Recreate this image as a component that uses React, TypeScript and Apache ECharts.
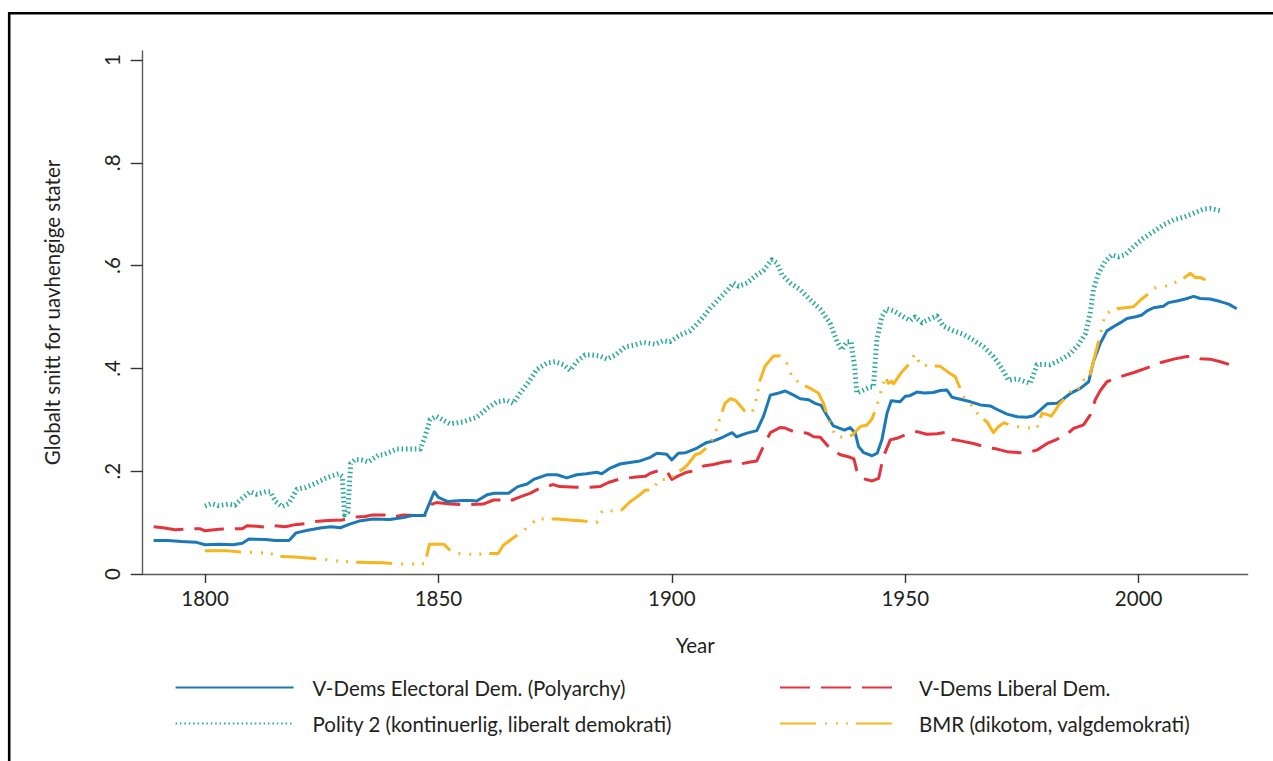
import React, { useEffect, useRef } from 'react';
import * as echarts from 'echarts';

const xTicks = [1800, 1850, 1900, 1950, 2000];
const yTicks = [0, 0.2, 0.4, 0.6, 0.8, 1];

const nameElectoral = 'V-Dems Electoral Dem. (Polyarchy)';
const nameLiberal = 'V-Dems Liberal Dem.';
const namePolity = 'Polity 2 (kontinuerlig, liberalt demokrati)';
const nameBmr = 'BMR (dikotom, valgdemokrati)';

const polyarchy: [number, number][] = [
  [1789, 0.065], [1792, 0.065], [1795, 0.063], [1798, 0.062], [1800, 0.057], [1803, 0.058], [1806, 0.057],
  [1808, 0.06], [1809.4, 0.068], [1813, 0.067], [1815, 0.065], [1818, 0.065], [1819.5, 0.08], [1822, 0.085],
  [1825, 0.09], [1827, 0.092], [1829, 0.09], [1831, 0.097], [1833, 0.103], [1836, 0.107], [1839.6, 0.106],
  [1842.5, 0.11], [1844.6, 0.114], [1847, 0.114], [1849.1, 0.16], [1850, 0.149], [1852, 0.141], [1855, 0.143],
  [1857, 0.143], [1858.2, 0.142], [1860.4, 0.154], [1862, 0.157], [1865, 0.157], [1867, 0.17], [1869, 0.175],
  [1870.4, 0.184], [1873.2, 0.193], [1875.4, 0.193], [1877.5, 0.187], [1879.6, 0.193], [1881.7, 0.195],
  [1883.9, 0.198], [1885, 0.195], [1886.8, 0.206], [1888.9, 0.214], [1891, 0.217], [1893.2, 0.22],
  [1895.4, 0.227], [1896.8, 0.235], [1898.9, 0.233], [1900, 0.222], [1901.4, 0.235], [1903, 0.236],
  [1905.4, 0.245], [1907.5, 0.256], [1909, 0.259], [1911.1, 0.267], [1912.9, 0.275], [1913.9, 0.267],
  [1916.1, 0.274], [1918.2, 0.279], [1919.6, 0.306], [1921.1, 0.348], [1922.5, 0.351], [1924.3, 0.356],
  [1926.1, 0.348], [1927.5, 0.341], [1929.3, 0.339], [1930.7, 0.332], [1932, 0.328], [1933.2, 0.309],
  [1934.6, 0.288], [1937, 0.28], [1938.2, 0.285], [1939.3, 0.274], [1940, 0.248], [1941.1, 0.236],
  [1942.9, 0.23], [1944, 0.235], [1945, 0.261], [1946.1, 0.313], [1947, 0.337], [1948.9, 0.335],
  [1950, 0.346], [1951, 0.347], [1952.5, 0.354], [1954, 0.352], [1956, 0.353], [1957.5, 0.357],
  [1958.9, 0.358], [1960, 0.344], [1961.8, 0.34], [1964, 0.335], [1966.1, 0.329], [1968.2, 0.327],
  [1969.7, 0.32], [1971.8, 0.311], [1974, 0.306], [1976.1, 0.305], [1977.5, 0.308], [1978.9, 0.319],
  [1980.4, 0.331], [1982.5, 0.332], [1983.9, 0.341], [1985.5, 0.352], [1987.5, 0.361], [1989.3, 0.374],
  [1990.3, 0.413], [1991.8, 0.449], [1993.2, 0.473], [1994.6, 0.481], [1996.1, 0.489], [1997.5, 0.497],
  [1999.6, 0.501], [2000.7, 0.504], [2001.8, 0.512], [2003.2, 0.518], [2005.3, 0.521], [2006.4, 0.528],
  [2008.2, 0.531], [2010, 0.535], [2011.8, 0.54], [2013.2, 0.536], [2015.3, 0.535], [2017.5, 0.53],
  [2019.3, 0.525], [2021, 0.516],
];

const liberal: [number, number][] = [
  [1789, 0.092], [1791, 0.09], [1793.6, 0.086], [1796.8, 0.088], [1799, 0.088], [1800, 0.084], [1803, 0.087],
  [1806, 0.088], [1808, 0.088], [1809, 0.094], [1811, 0.093], [1813, 0.091], [1814.6, 0.094], [1817.2, 0.092],
  [1819.3, 0.096], [1821.4, 0.098], [1823.6, 0.102], [1826.4, 0.104], [1829.4, 0.105], [1831.1, 0.11],
  [1834.3, 0.112], [1836, 0.115], [1838.3, 0.115], [1840, 0.11], [1842.5, 0.115], [1845, 0.114],
  [1847.1, 0.114], [1848.6, 0.136], [1849.6, 0.139], [1852.5, 0.136], [1855.4, 0.135], [1859.6, 0.136],
  [1861.8, 0.144], [1864, 0.144], [1865, 0.141], [1867.5, 0.15], [1869.6, 0.157], [1871.8, 0.167],
  [1874.6, 0.174], [1876, 0.17], [1879.6, 0.169], [1882.5, 0.169], [1884.6, 0.17], [1886.4, 0.178],
  [1888.9, 0.185], [1891.8, 0.188], [1894.3, 0.19], [1895.4, 0.196], [1897.5, 0.202], [1899, 0.199],
  [1900, 0.184], [1901.4, 0.191], [1903.2, 0.198], [1905.4, 0.202], [1906.8, 0.21], [1908.9, 0.213],
  [1911.1, 0.218], [1912.9, 0.22], [1914.6, 0.214], [1916.8, 0.218], [1918.2, 0.22], [1919.6, 0.248],
  [1921.1, 0.275], [1923.2, 0.285], [1924.3, 0.284], [1926.1, 0.277], [1929, 0.274], [1930.4, 0.267],
  [1931.8, 0.266], [1933.9, 0.244], [1936.1, 0.232], [1938.2, 0.227], [1939, 0.224], [1939.6, 0.202],
  [1940.7, 0.186], [1942.9, 0.181], [1944.3, 0.186], [1945.3, 0.228], [1946.8, 0.261], [1948.2, 0.264],
  [1950.4, 0.272], [1952.5, 0.277], [1954.6, 0.272], [1956.8, 0.273], [1958.9, 0.276], [1960, 0.262],
  [1961.8, 0.259], [1964.6, 0.254], [1967.5, 0.246], [1969.7, 0.243], [1971.8, 0.238], [1974.6, 0.236],
  [1976.8, 0.238], [1978.2, 0.241], [1980.4, 0.254], [1982.5, 0.262], [1985.3, 0.277], [1986, 0.283],
  [1988.2, 0.29], [1989.6, 0.309], [1990.7, 0.339], [1991.8, 0.357], [1993.2, 0.374], [1996.1, 0.384],
  [1999, 0.392], [2001.8, 0.401], [2004.6, 0.411], [2007.5, 0.418], [2010.3, 0.423], [2011.8, 0.424],
  [2013.2, 0.419], [2015.3, 0.418], [2017.5, 0.413], [2019.6, 0.407], [2021, 0.4],
];

const polity: [number, number][] = [
  [1800, 0.132], [1801.4, 0.137], [1802.9, 0.133], [1805, 0.136], [1806.4, 0.134], [1807.9, 0.147],
  [1809.7, 0.16], [1811.1, 0.155], [1813, 0.16], [1814, 0.16], [1815.1, 0.141], [1816.5, 0.131],
  [1817.9, 0.137], [1819.7, 0.165], [1821.4, 0.168], [1823.6, 0.176], [1825.8, 0.186], [1827.2, 0.191],
  [1828.6, 0.195], [1829.4, 0.19], [1829.9, 0.115], [1830.6, 0.12], [1831.2, 0.215], [1832.2, 0.223],
  [1833.5, 0.222], [1835, 0.218], [1837.2, 0.232], [1838.2, 0.232], [1841.1, 0.243], [1843.9, 0.243],
  [1846.1, 0.243], [1847.1, 0.267], [1848.2, 0.3], [1849.6, 0.307], [1850.9, 0.3], [1852.5, 0.292],
  [1855.3, 0.296], [1858.2, 0.305], [1860.4, 0.322], [1862.5, 0.335], [1864.6, 0.338], [1866, 0.332],
  [1867.5, 0.352], [1869.6, 0.377], [1871.1, 0.398], [1873.2, 0.41], [1875, 0.413], [1876.8, 0.407],
  [1878.2, 0.396], [1879.6, 0.413], [1881.4, 0.426], [1882.9, 0.426], [1884.6, 0.424], [1886.1, 0.418],
  [1887.9, 0.426], [1890, 0.442], [1891.8, 0.445], [1893.9, 0.451], [1896.4, 0.447], [1898.2, 0.454],
  [1899.6, 0.452], [1901.8, 0.465], [1903.9, 0.473], [1906.1, 0.493], [1908.2, 0.517], [1910.4, 0.538],
  [1912.1, 0.554], [1913.2, 0.566], [1914.3, 0.56], [1916.1, 0.566], [1918.2, 0.582], [1919.6, 0.59],
  [1921.4, 0.611], [1922.5, 0.605], [1923.6, 0.582], [1925.4, 0.566], [1927.5, 0.553], [1929.6, 0.534],
  [1931.8, 0.515], [1933.9, 0.488], [1935.4, 0.452], [1936.4, 0.436], [1937.5, 0.452], [1938.4, 0.452],
  [1939.2, 0.4], [1939.6, 0.352], [1941.1, 0.358], [1942.5, 0.364], [1943.2, 0.364], [1943.9, 0.455],
  [1945, 0.501], [1946.1, 0.516], [1947.5, 0.512], [1949.3, 0.502], [1951.1, 0.493], [1952.1, 0.5],
  [1953.6, 0.489], [1955.4, 0.497], [1956.8, 0.502], [1958.2, 0.482], [1960.3, 0.473], [1962.5, 0.466],
  [1964.6, 0.455], [1966.8, 0.442], [1968.9, 0.423], [1970.7, 0.4], [1972.1, 0.377], [1974, 0.38],
  [1975.7, 0.374], [1976.8, 0.371], [1978.2, 0.407], [1979.6, 0.408], [1981, 0.407], [1983.2, 0.416],
  [1985.3, 0.428], [1987.1, 0.446], [1988.6, 0.468], [1989.6, 0.507], [1990.3, 0.553], [1991.4, 0.585],
  [1992.8, 0.608], [1994.3, 0.621], [1995.7, 0.617], [1997.1, 0.621], [1998.9, 0.637], [2001, 0.653],
  [2003.2, 0.666], [2005.3, 0.679], [2007.5, 0.689], [2009.6, 0.694], [2011.8, 0.702], [2013.9, 0.71],
  [2015.3, 0.711], [2017.5, 0.707],
];

const bmr: [number, number][] = [
  [1800, 0.045], [1805, 0.045], [1807.6, 0.043], [1811, 0.042], [1814, 0.04], [1815.8, 0.034],
  [1819.3, 0.033], [1823.3, 0.03], [1826, 0.028], [1829, 0.025], [1831.9, 0.023], [1838, 0.022],
  [1841, 0.02], [1844, 0.019], [1847.1, 0.02], [1848.1, 0.058], [1851.1, 0.058], [1853, 0.042],
  [1855, 0.039], [1857.9, 0.038], [1860.4, 0.04], [1862.8, 0.04], [1863.9, 0.056], [1866, 0.07],
  [1869.3, 0.092], [1871.1, 0.107], [1875.4, 0.107], [1878, 0.105], [1881, 0.103], [1883.9, 0.1],
  [1885, 0.121], [1889.3, 0.125], [1891, 0.14], [1893, 0.153], [1894.3, 0.163], [1896.1, 0.164],
  [1897.1, 0.184], [1899.6, 0.184], [1901, 0.197], [1902.5, 0.205], [1903.6, 0.215], [1905, 0.232],
  [1906.1, 0.235], [1907.5, 0.246], [1908.5, 0.26], [1909.5, 0.28], [1910.4, 0.306], [1911.4, 0.332],
  [1912.5, 0.341], [1913.6, 0.338], [1914, 0.334], [1915.5, 0.318], [1917, 0.312], [1917.8, 0.326],
  [1918.2, 0.345], [1918.9, 0.377], [1920, 0.405], [1921.8, 0.424], [1923.2, 0.424], [1924.6, 0.41],
  [1925.7, 0.385], [1927.5, 0.37], [1929.5, 0.362], [1931.4, 0.352], [1932.5, 0.332], [1933.6, 0.3],
  [1935, 0.27], [1936.5, 0.266], [1938.6, 0.27], [1940.4, 0.287], [1941.8, 0.29], [1942.9, 0.302],
  [1944, 0.33], [1945.7, 0.384], [1946.4, 0.371], [1947.1, 0.375], [1947.5, 0.37], [1949, 0.39],
  [1950.7, 0.407], [1952.1, 0.429], [1953.2, 0.407], [1955, 0.405], [1957.5, 0.404], [1959.6, 0.39],
  [1960.7, 0.384], [1962.5, 0.345], [1964.5, 0.325], [1966, 0.305], [1967.5, 0.296], [1968.9, 0.275],
  [1970, 0.287], [1971.1, 0.294], [1973.5, 0.287], [1976, 0.285], [1978.2, 0.283], [1979.3, 0.313],
  [1980.4, 0.31], [1981.3, 0.307], [1983, 0.33], [1985, 0.35], [1986.1, 0.364], [1987.1, 0.361],
  [1988.2, 0.377], [1989.3, 0.378], [1990.5, 0.42], [1991.4, 0.452], [1992.8, 0.504], [1994.5, 0.515],
  [1997, 0.518], [1998.9, 0.52], [2000.4, 0.533], [2001.8, 0.543], [2003.2, 0.556], [2005.5, 0.559],
  [2007.5, 0.566], [2009.6, 0.575], [2011.1, 0.585], [2012.1, 0.577], [2013.2, 0.577], [2014.3, 0.572],
];

const FONT = 'Lato, "Open Sans", sans-serif';
const TEXT = '#231f20';
const AXIS = '#5a5a5a';
const FS = 20.5;

export default function App() {
  const ref = useRef<HTMLDivElement>(null);
  useEffect(() => {
    const chart = echarts.init(ref.current!, null, { renderer: 'svg' });
    const mk = (name: string, data: [number, number][], color: string, width: number, type: any, z: number) => ({
      name,
      type: 'line',
      data,
      symbol: 'none',
      silent: true,
      z,
      itemStyle: { color },
      lineStyle: { color, width, type, cap: 'butt', join: 'round' },
      emphasis: { disabled: true },
    });
    chart.setOption({
      animation: false,
      backgroundColor: '#ffffff',
      textStyle: { fontFamily: FONT },
      graphic: [
        {
          type: 'rect',
          silent: true,
          shape: { x: 9.2, y: 13.2, width: 1400, height: 900 },
          style: { fill: 'none', stroke: '#000', lineWidth: 2.6 },
        },
      ],
      grid: { left: 142.7, right: 25.3, top: 51, bottom: 187, containLabel: false },
      xAxis: {
        type: 'value',
        min: 1786.65,
        max: 2023.36,
        name: 'Year',
        nameLocation: 'middle',
        nameGap: 60,
        nameTextStyle: { fontSize: FS, color: TEXT, fontFamily: FONT },
        splitLine: { show: false },
        axisLine: { show: true, onZero: false, lineStyle: { color: AXIS, width: 1.4 } },
        axisTick: { show: true, customValues: xTicks, length: 9, lineStyle: { color: '#333', width: 1.4 } },
        axisLabel: {
          customValues: xTicks,
          fontSize: FS,
          color: TEXT,
          margin: 13,
          fontFamily: FONT,
          formatter: (v: number) => String(v),
        },
      },
      yAxis: {
        type: 'value',
        min: 0,
        max: 1.0175,
        name: 'Globalt snitt for uavhengige stater',
        nameLocation: 'middle',
        nameRotate: 90,
        nameGap: 80,
        nameTextStyle: { fontSize: FS, color: TEXT, fontFamily: FONT },
        splitLine: { show: false },
        axisLine: { show: true, onZero: false, lineStyle: { color: AXIS, width: 1.4 } },
        axisTick: { show: true, customValues: yTicks, length: 12, lineStyle: { color: '#333', width: 1.4 } },
        axisLabel: {
          customValues: yTicks,
          rotate: 90,
          fontSize: FS,
          color: TEXT,
          margin: 20,
          fontFamily: FONT,
          formatter: (v: number) => (v === 0 ? '0' : v === 1 ? '1' : String(v).replace(/^0/, '')),
        },
      },
      legend: [
        {
          data: [nameElectoral, namePolity],
          orient: 'vertical',
          left: 174.6,
          top: 677,
          padding: 0,
          itemWidth: 118,
          itemHeight: 20,
          itemGap: 15,
          selectedMode: false,
          itemStyle: { opacity: 0 },
          textStyle: { fontSize: FS, color: TEXT, fontFamily: FONT, padding: [0, 0, 0, 14], lineHeight: 20 },
        },
        {
          data: [nameLiberal, nameBmr],
          orient: 'vertical',
          left: 779,
          top: 677,
          padding: 0,
          itemWidth: 112,
          itemHeight: 20,
          itemGap: 15,
          selectedMode: false,
          itemStyle: { opacity: 0 },
          textStyle: { fontSize: FS, color: TEXT, fontFamily: FONT, padding: [0, 0, 0, 22], lineHeight: 20 },
        },
      ],
      series: [
        mk(nameElectoral, polyarchy, '#1b79b9', 3, 'solid', 4),
        mk(nameLiberal, liberal, '#e5333b', 3, [30, 11], 3),
        mk(namePolity, polity, '#2ba89c', 5, [1.5, 2.9], 2),
        mk(nameBmr, bmr, '#f8b51d', 3, [36, 9, 2, 9, 2, 8, 2, 8], 5),
      ],
    });
    return () => chart.dispose();
  }, []);
  return (
    <div
      ref={ref}
      style={{ position: 'fixed', left: 0, top: 0, width: 1273, height: 761, background: '#fff' }}
    />
  );
}
